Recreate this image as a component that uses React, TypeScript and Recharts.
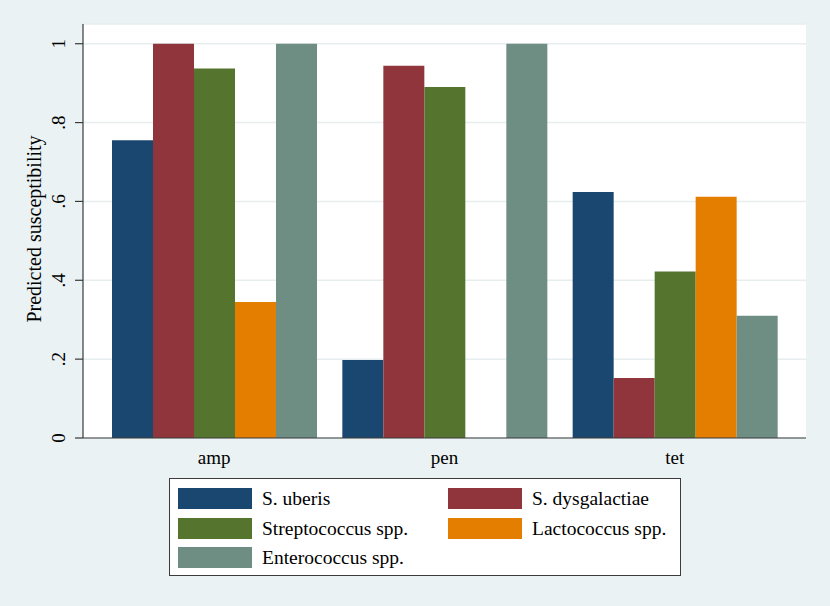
import { BarChart, Bar, XAxis, YAxis, CartesianGrid, Legend, Label } from 'recharts';

const categories = ['amp', 'pen', 'tet'];
const sUberis = [0.755, 0.198, 0.624];
const sDysgalactiae = [1, 0.944, 0.152];
const streptococcus = [0.937, 0.89, 0.422];
const lactococcus = [0.345, null, 0.612];
const enterococcus = [1, 1, 0.31];
const yTicks = [0, 0.2, 0.4, 0.6, 0.8, 1];

const seriesKeys = ['uberis', 'dysgalactiae', 'strep', 'lacto', 'entero'];
const seriesNames = ['S. uberis', 'S. dysgalactiae', 'Streptococcus spp.', 'Lactococcus spp.', 'Enterococcus spp.'];
const seriesColors = ['#1a476f', '#90353b', '#55752f', '#e37e00', '#6e8e84'];

const data = categories.map((drug, i) => ({
  drug,
  uberis: sUberis[i],
  dysgalactiae: sDysgalactiae[i],
  strep: streptococcus[i],
  lacto: lactococcus[i],
  entero: enterococcus[i],
}));

const FONT = '"Liberation Serif", "Times New Roman", serif';

// stata style: drop the leading zero
const fmt = (v: number) => (v === 0 ? '0' : v === 1 ? '1' : String(v).replace(/^0/, ''));

function YTick({ x, y, payload }: any) {
  const tx = x - 10;
  return (
    <text x={tx} y={y} transform={`rotate(-90 ${tx} ${y})`} textAnchor="middle" fontSize={19} fill="#000" fontFamily={FONT}>
      {fmt(payload.value)}
    </text>
  );
}

function XTick({ x, y, payload }: any) {
  return (
    <text x={x} y={y + 18} textAnchor="middle" fontSize={19} fill="#000" fontFamily={FONT}>
      {payload.value}
    </text>
  );
}

function LegendBox({ payload }: any) {
  // keep the series order instead of the alphabetical one
  const items = [...(payload || [])].sort(
    (a: any, b: any) => seriesNames.indexOf(a.value) - seriesNames.indexOf(b.value)
  );
  return (
    <div
      style={{
        boxSizing: 'border-box',
        width: 512,
        height: 98,
        border: '1px solid #3c3c3c',
        background: '#fff',
        padding: '9px 8px',
        display: 'grid',
        gridTemplateColumns: '270px 230px',
        rowGap: 8.5,
        fontFamily: FONT,
        fontSize: 19.5,
        color: '#000',
      }}
    >
      {items.map((p: any) => (
        <div key={p.value} style={{ display: 'flex', alignItems: 'center', height: 21 }}>
          <span style={{ display: 'inline-block', width: 74, height: 21, background: p.color, marginRight: 10 }} />
          <span style={{ lineHeight: '21px', whiteSpace: 'nowrap' }}>{p.value}</span>
        </div>
      ))}
    </div>
  );
}

export default function App() {
  return (
    <div style={{ position: 'absolute', left: 0, top: 0, width: 830, height: 606, background: '#eaf2f3' }}>
      <BarChart
        width={830}
        height={606}
        data={data}
        margin={{ top: 24, right: 24, bottom: 138, left: 0 }}
        barCategoryGap={13}
        barGap={0}
      >
        <CartesianGrid vertical={false} stroke="#e6eef0" strokeWidth={1.5} fill="#fff" />
        <XAxis
          dataKey="drug"
          padding={{ left: 16, right: 16 }}
          height={30}
          tickLine={false}
          tickSize={8}
          tickMargin={0}
          tick={<XTick />}
          axisLine={{ stroke: '#3a3a3a', strokeWidth: 1.2 }}
        />
        <YAxis
          width={83}
          domain={[0, 1.05]}
          ticks={yTicks}
          interval={0}
          tickSize={8}
          tickMargin={0}
          tick={<YTick />}
          tickLine={{ stroke: '#3a3a3a', strokeWidth: 1.2 }}
          axisLine={{ stroke: '#3a3a3a', strokeWidth: 1.2 }}
        >
          <Label
            content={({ viewBox }: any) => {
              const lx = viewBox.x + 41;
              const ly = viewBox.y + viewBox.height / 2 - 2;
              return (
                <text x={lx} y={ly} transform={`rotate(-90 ${lx} ${ly})`} textAnchor="middle" fontSize={20} fill="#000" fontFamily={FONT}>
                  Predicted susceptibility
                </text>
              );
            }}
          />
        </YAxis>
        <Legend
          layout="vertical"
          align="center"
          verticalAlign="middle"
          wrapperStyle={{ left: 169, top: 478, width: 512 }}
          content={<LegendBox />}
        />
        {seriesKeys.map((k, i) => (
          <Bar key={k} dataKey={k} name={seriesNames[i]} fill={seriesColors[i]} isAnimationActive={false} />
        ))}
      </BarChart>
    </div>
  );
}
